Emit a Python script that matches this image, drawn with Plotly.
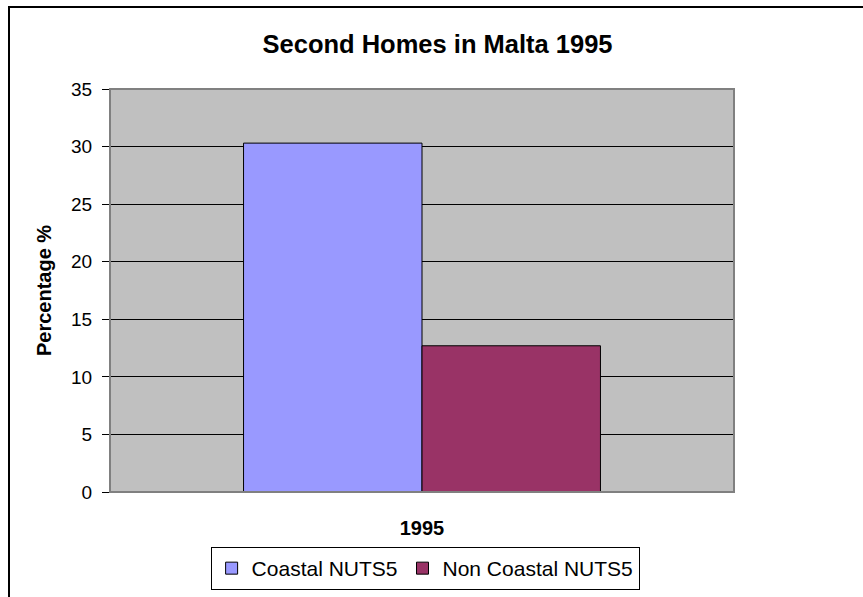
import plotly.graph_objects as go

categories = ["1995"]
series_names = ["Coastal NUTS5", "Non Coastal NUTS5"]
coastal = [30.3]
non_coastal = [12.7]
colors = ["#9999FF", "#993366"]
y_ticks = [0, 5, 10, 15, 20, 25, 30, 35]

FONT = "Arial, Liberation Sans, sans-serif"

fig = go.Figure()
for name, vals, col in zip(series_names, [coastal, non_coastal], colors):
    fig.add_trace(go.Bar(
        x=categories, y=vals, name=name,
        marker=dict(color=col, line=dict(color="black", width=1)),
    ))

fig.update_layout(
    width=863, height=597,
    margin=dict(l=110, r=129, t=89, b=105, autoexpand=False),
    paper_bgcolor="white",
    plot_bgcolor="#C0C0C0",
    barmode="group",
    bargap=0.428,
    bargroupgap=0,
    font=dict(family=FONT, color="black"),
    title=dict(text="<b>Second Homes in Malta 1995</b>", x=0.507, xanchor="center",
               y=1 - 44 / 597, yanchor="middle", font=dict(size=25.5, family=FONT, color="black")),
    showlegend=True,
    legend=dict(orientation="h", x=0.505, xanchor="center",
                yref="container", y=1 - 547 / 597, yanchor="top",
                bordercolor="black", borderwidth=1, bgcolor="white",
                font=dict(size=21, family=FONT, color="black"),
                itemwidth=30, traceorder="normal"),
    xaxis=dict(
        type="category", automargin=False,
        tickfont=dict(size=20, family=FONT, color="black", weight="bold"),
        ticks="", showline=False, showgrid=False,
        ticklabelstandoff=22,
    ),
    yaxis=dict(
        range=[0, 35], tickvals=y_ticks, automargin=False,
        tickfont=dict(size=19, family=FONT, color="black"),
        ticks="outside", ticklen=7, tickcolor="black",
        ticklabelstandoff=6,
        showline=True, linecolor="black", linewidth=1,
        showgrid=True, gridcolor="black", gridwidth=1,
        zeroline=False,
        title=dict(text="<b>Percentage %</b>", font=dict(size=20, family=FONT, color="black"),
                   standoff=14),
    ),
)

# plot area border (grey)
fig.add_shape(type="rect", xref="paper", yref="paper", x0=0, x1=1, y0=0, y1=1,
              line=dict(color="#808080", width=2), layer="above")
# outer chart frame (left/top visible)
fig.add_shape(type="rect", xref="paper", yref="paper",
              x0=(9 - 110) / 624, x1=(880 - 110) / 624,
              y0=(492 - 620) / 403, y1=(492 - 7) / 403,
              line=dict(color="black", width=2), layer="below")

fig.write_html("out.html",
               config={"displayModeBar": False},
               post_script="document.body.style.margin='0';document.body.style.overflow='hidden';")
